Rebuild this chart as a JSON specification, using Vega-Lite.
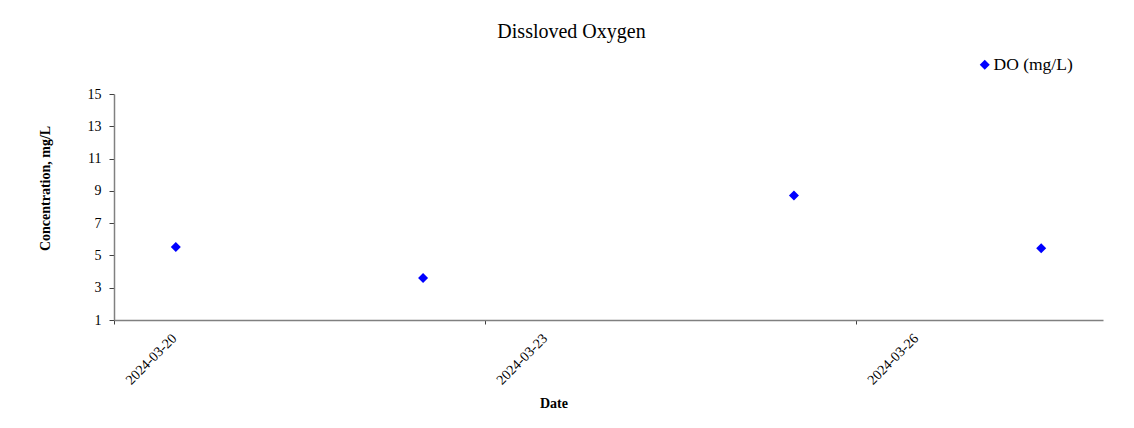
{
  "$schema": "https://vega.github.io/schema/vega-lite/v6.json",
  "width": 989,
  "height": 226,
  "autosize": {"type": "none"},
  "padding": {"left": 114, "top": 94, "right": 31, "bottom": 108},
  "background": "white",
  "title": {
    "text": "Dissloved Oxygen",
    "font": "Liberation Serif",
    "fontSize": 20,
    "fontWeight": "normal",
    "color": "black",
    "anchor": "middle",
    "frame": "group",
    "dx": -37,
    "dy": 32,
    "baseline": "alphabetic",
    "offset": 30
  },
  "data": {
    "values": [
      {"date": "2024-03-20T12:00:00", "value": 5.52, "series": "DO (mg/L)"},
      {"date": "2024-03-22T12:00:00", "value": 3.6, "series": "DO (mg/L)"},
      {"date": "2024-03-25T12:00:00", "value": 8.71, "series": "DO (mg/L)"},
      {"date": "2024-03-27T12:00:00", "value": 5.44, "series": "DO (mg/L)"}
    ]
  },
  "mark": {"type": "point", "shape": "diamond", "filled": true, "size": 100, "opacity": 1},
  "encoding": {
    "x": {
      "field": "date",
      "type": "temporal",
      "scale": {
        "domain": [
          {"year": 2024, "month": 3, "date": 20},
          {"year": 2024, "month": 3, "date": 28}
        ]
      },
      "axis": {
        "title": "Date",
        "values": [
          {"year": 2024, "month": 3, "date": 20},
          {"year": 2024, "month": 3, "date": 23},
          {"year": 2024, "month": 3, "date": 26}
        ],
        "format": "%Y-%m-%d",
        "labelAngle": -45,
        "labelAlign": "center",
        "labelBaseline": "middle",
        "labelOffset": 37,
        "labelPadding": 35,
        "tickSize": 4,
        "grid": false,
        "titleX": 439.5,
        "titleY": 83,
        "titleAlign": "center",
        "titleBaseline": "middle",
        "titleAnchor": null
      }
    },
    "y": {
      "field": "value",
      "type": "quantitative",
      "scale": {"domain": [1, 15], "nice": false, "zero": false},
      "axis": {
        "title": "Concentration, mg/L",
        "values": [1, 3, 5, 7, 9, 11, 13, 15],
        "tickSize": 5,
        "labelPadding": 8,
        "grid": false,
        "titleAngle": -90,
        "titleX": -69,
        "titleY": 94,
        "titleAlign": "center",
        "titleBaseline": "middle"
      }
    },
    "color": {
      "field": "series",
      "type": "nominal",
      "scale": {"domain": ["DO (mg/L)"], "range": ["#0000ff"]},
      "legend": {
        "title": null,
        "orient": "none",
        "legendX": 862,
        "legendY": -38,
        "padding": 0,
        "symbolType": "diamond",
        "symbolSize": 100,
        "symbolStrokeWidth": 0,
        "symbolOpacity": 1,
        "labelFont": "Liberation Serif",
        "labelFontSize": 17.5,
        "labelColor": "black",
        "labelOffset": 0
      }
    }
  },
  "config": {
    "view": {"stroke": null},
    "axis": {
      "labelFont": "Liberation Serif",
      "labelFontSize": 14,
      "labelColor": "black",
      "titleFont": "Liberation Serif",
      "titleFontSize": 14,
      "titleFontWeight": "bold",
      "titleColor": "black",
      "domainColor": "#808080",
      "domainWidth": 1.5,
      "tickColor": "#404040",
      "tickWidth": 1
    }
  }
}
